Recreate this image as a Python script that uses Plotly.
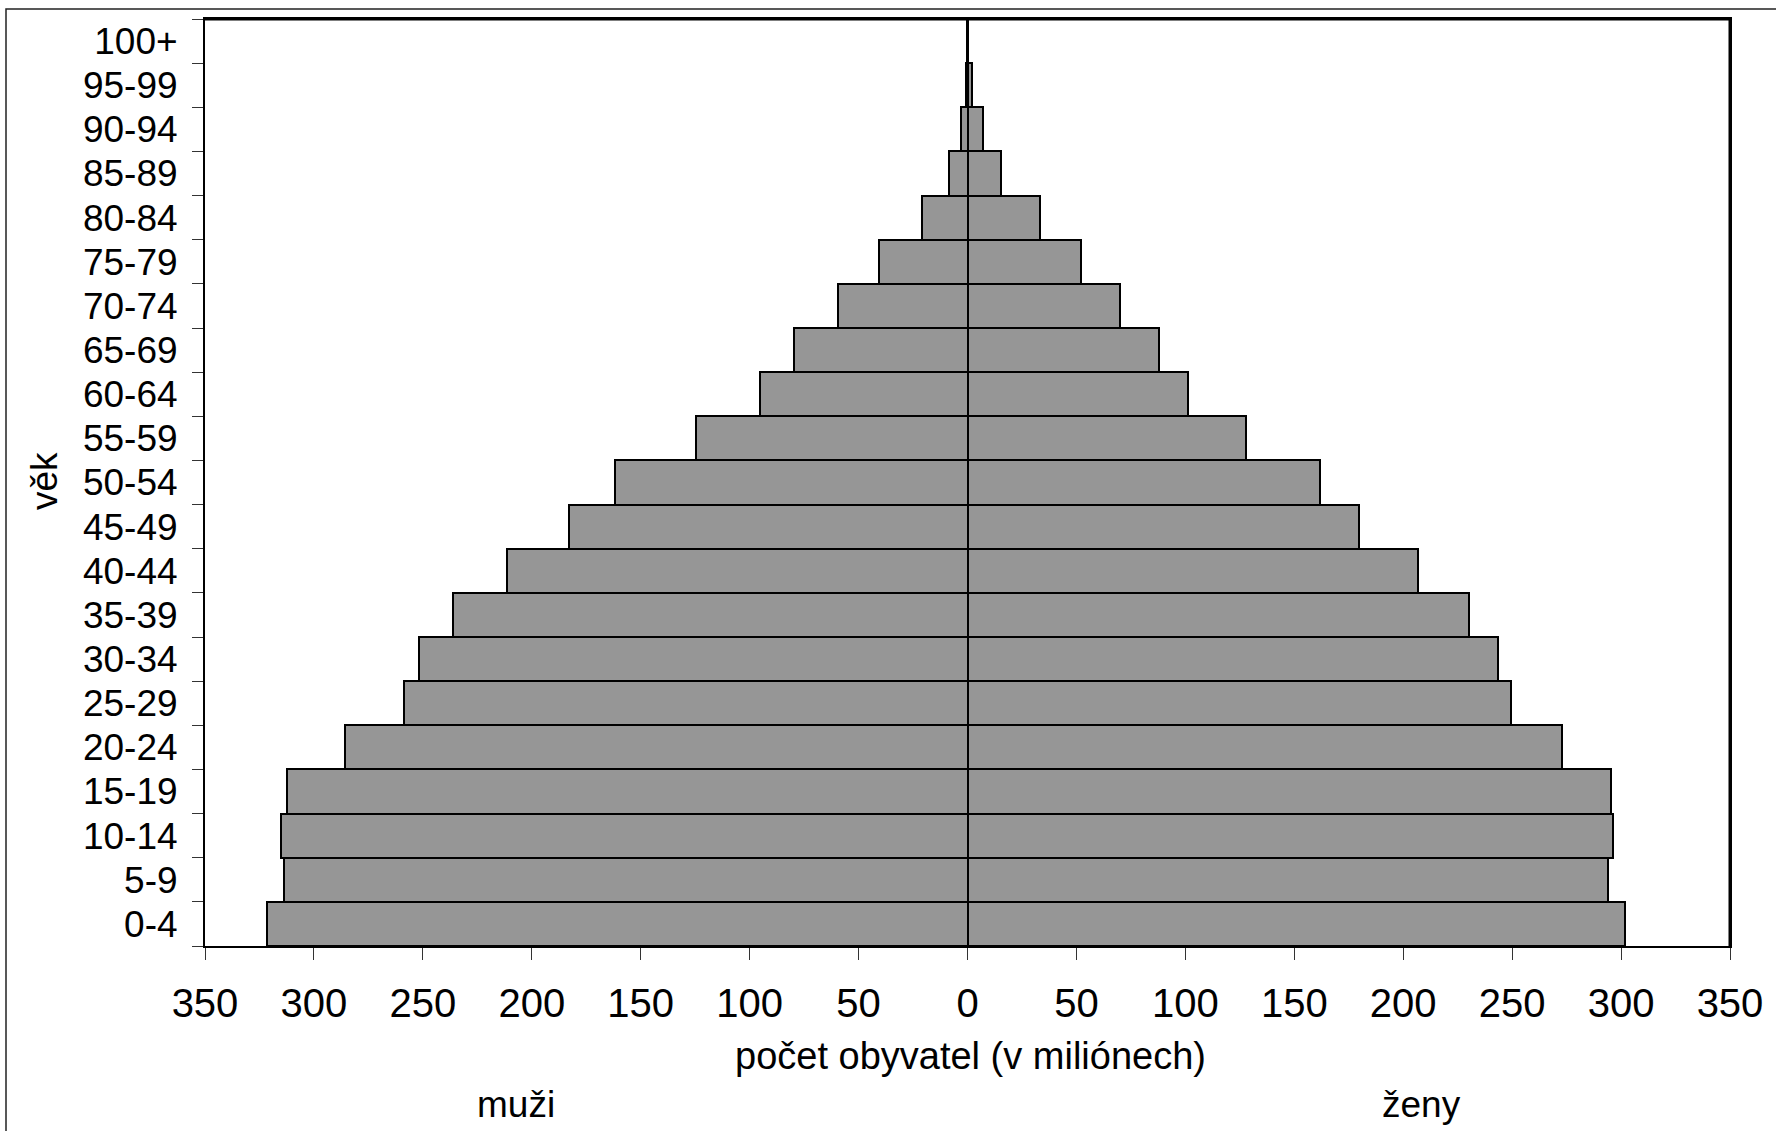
import plotly.graph_objects as go

age_groups = ["0-4", "5-9", "10-14", "15-19", "20-24", "25-29", "30-34", "35-39",
              "40-44", "45-49", "50-54", "55-59", "60-64", "65-69", "70-74",
              "75-79", "80-84", "85-89", "90-94", "95-99", "100+"]
men = [321.6, 313.8, 314.9, 312.4, 285.6, 258.5, 251.7, 236.1, 211.2, 183, 161.9,
       124.8, 95.2, 79.8, 59.6, 40.4, 21, 8.3, 2.8, 0.5, 0.1]
women = [301.9, 294.1, 296.4, 295.4, 272.8, 249.5, 243.4, 230, 206.6, 179.8, 161.8,
         127.9, 101, 88, 70, 52.2, 33.5, 15.6, 6.9, 2.0, 0.2]
x_ticks = [-350, -300, -250, -200, -150, -100, -50, 0, 50, 100, 150, 200, 250, 300, 350]
x_tick_text = ["350", "300", "250", "200", "150", "100", "50", "0", "50", "100",
               "150", "200", "250", "300", "350"]

FONT = "Liberation Sans, Arial, sans-serif"
FS_XTICK = 40
FS_YTICK = 37
FS_TITLE = 38
FS_LABEL = 37
W, H = 1776, 1131
L, R, T, B = 205, 1730, 19, 946

fig = go.Figure()
fig.add_trace(go.Bar(
    y=age_groups, x=[-v for v in men], orientation="h", name="muži",
    marker=dict(color="#969696", line=dict(color="black", width=2)),
))
fig.add_trace(go.Bar(
    y=age_groups, x=women, orientation="h", name="ženy",
    marker=dict(color="#969696", line=dict(color="black", width=2)),
))

def px_x(p):
    return (p - L) / (R - L)

def px_y(p):
    return (B - p) / (B - T)

fig.update_layout(
    width=W, height=H,
    margin=dict(l=L, r=W - R, t=T, b=H - B),
    paper_bgcolor="white", plot_bgcolor="white",
    barmode="overlay", bargap=0,
    showlegend=False,
    font=dict(family=FONT, size=FS_XTICK, color="black"),
    xaxis=dict(
        range=[-350, 350], tickvals=x_ticks, ticktext=x_tick_text,
        showgrid=False, zeroline=True, zerolinecolor="black", zerolinewidth=2,
        showline=True, linecolor="black", linewidth=2, mirror=True,
        ticks="outside", ticklen=12, tickcolor="#333333", tickwidth=1,
        ticklabelstandoff=9,
        tickfont=dict(family=FONT, size=FS_XTICK, color="black"),
    ),
    yaxis=dict(
        type="category", categoryorder="array", categoryarray=age_groups,
        showgrid=False, showline=True, linecolor="black", linewidth=2, mirror=True,
        ticks="outside", ticklen=11, tickcolor="#333333", tickwidth=1,
        tickson="boundaries", ticklabelstandoff=18,
        tickfont=dict(family=FONT, size=FS_YTICK, color="black"),
    ),
    shapes=[
        dict(type="rect", xref="paper", yref="paper",
             x0=px_x(6), x1=px_x(1790), y0=px_y(1140), y1=px_y(9),
             line=dict(color="#222222", width=1.5), fillcolor="rgba(0,0,0,0)",
             layer="below"),
        dict(type="line", xref="paper", yref="paper", x0=0, x1=1.001, y0=1, y1=1,
             line=dict(color="black", width=3)),
        dict(type="line", xref="paper", yref="paper", x0=1, x1=1, y0=0, y1=1.001,
             line=dict(color="black", width=3)),
    ],
    annotations=[
        dict(text="počet obyvatel (v miliónech)", xref="paper", yref="paper",
             x=px_x(970), y=px_y(1056), xanchor="center", yanchor="middle",
             showarrow=False, font=dict(family=FONT, size=FS_TITLE, color="black")),
        dict(text="muži", xref="paper", yref="paper",
             x=px_x(516), y=px_y(1104), xanchor="center", yanchor="middle",
             showarrow=False, font=dict(family=FONT, size=FS_LABEL, color="black")),
        dict(text="ženy", xref="paper", yref="paper",
             x=px_x(1421), y=px_y(1104), xanchor="center", yanchor="middle",
             showarrow=False, font=dict(family=FONT, size=FS_LABEL, color="black")),
        dict(text="věk", xref="paper", yref="paper", textangle=-90,
             x=px_x(45), y=px_y(481), xanchor="center", yanchor="middle",
             showarrow=False, font=dict(family=FONT, size=FS_LABEL, color="black")),
    ],
)

fig.write_html("out.html")
